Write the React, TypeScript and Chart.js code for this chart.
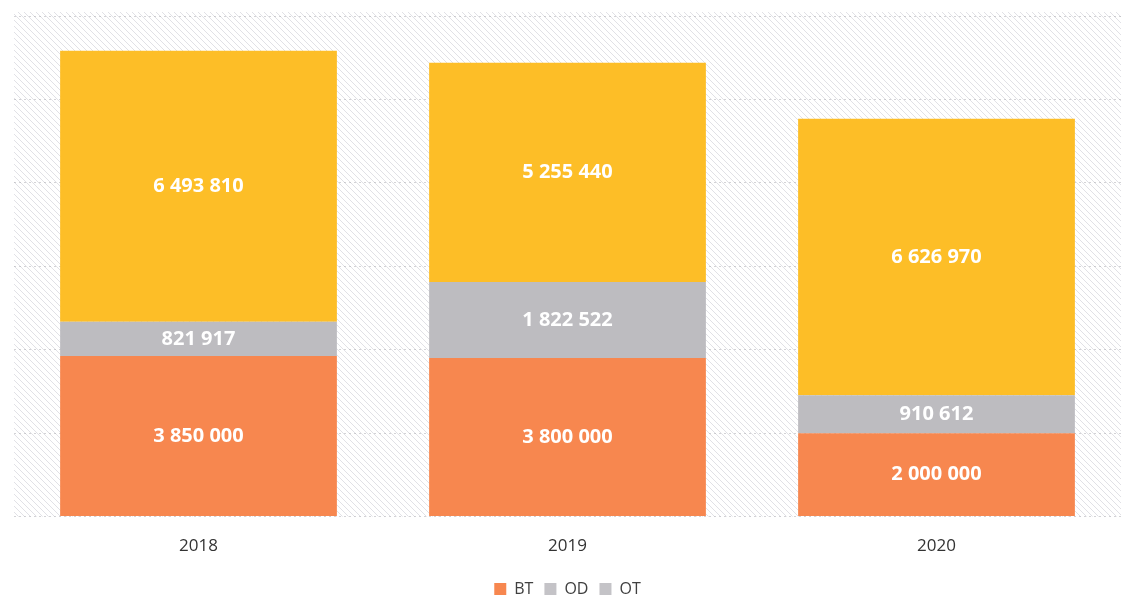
import React, { useEffect, useRef } from "react";
import { Chart, registerables } from "chart.js";

Chart.register(...registerables);

const categories = ["2018", "2019", "2020"];
const btValues = [3850000, 3800000, 2000000];
const odValues = [821917, 1822522, 910612];
const otValues = [6493810, 5255440, 6626970];
const seriesNames = ["BT", "OD", "OT"];
const yTicks = [0, 2000000, 4000000, 6000000, 8000000, 10000000, 12000000];

const fmt = (v: number) => String(Math.round(v)).replace(/\B(?=(\d{3})+(?!\d))/g, " ");

const hatchPlugin = {
  id: "hatch",
  beforeDraw(chart: any) {
    const { ctx, chartArea } = chart;
    const pc = document.createElement("canvas");
    pc.width = 6;
    pc.height = 6;
    const p = pc.getContext("2d")!;
    p.strokeStyle = "rgba(195,195,205,0.5)";
    p.lineWidth = 1;
    p.beginPath();
    p.moveTo(0, 0);
    p.lineTo(6, 6);
    p.moveTo(-3, 3);
    p.lineTo(3, 9);
    p.moveTo(3, -3);
    p.lineTo(9, 3);
    p.stroke();
    const pat = ctx.createPattern(pc, "repeat");
    ctx.save();
    ctx.fillStyle = pat;
    ctx.fillRect(chartArea.left, chartArea.top - 4, chartArea.right - chartArea.left, chartArea.bottom - chartArea.top + 4);
    ctx.restore();
  },
};

const labelPlugin = {
  id: "barLabels",
  afterDatasetsDraw(chart: any) {
    const { ctx } = chart;
    ctx.save();
    ctx.fillStyle = "#ffffff";
    ctx.font = "bold 20px 'Open Sans', sans-serif";
    ctx.textAlign = "center";
    ctx.textBaseline = "middle";
    chart.data.datasets.forEach((ds: any, di: number) => {
      const meta = chart.getDatasetMeta(di);
      meta.data.forEach((bar: any, i: number) => {
        const y = (bar.y + bar.base) / 2;
        ctx.fillText(fmt(ds.data[i]), bar.x, y);
      });
    });
    ctx.restore();
  },
};

export default function App() {
  const ref = useRef<HTMLCanvasElement>(null);
  useEffect(() => {
    document.body.style.margin = "0";
    const legendColors = ["#F7874F", "#C4C3C7", "#C4C3C7"];
    const chart = new Chart(ref.current!, {
      type: "bar",
      data: {
        labels: categories,
        datasets: [
          { label: seriesNames[0], data: btValues, backgroundColor: "#F7874F" },
          { label: seriesNames[1], data: odValues, backgroundColor: "#BDBCC0" },
          { label: seriesNames[2], data: otValues, backgroundColor: "#FDBE27" },
        ],
      },
      options: {
        animation: false,
        responsive: false,
        layout: { padding: { left: 14, right: 0, top: 16, bottom: -11 } },
        datasets: { bar: { barPercentage: 0.75, categoryPercentage: 1 } },
        plugins: {
          legend: {
            position: "bottom",
            labels: {
              boxWidth: 12,
              boxHeight: 12,
              padding: 11,
              color: "#404040",
              font: { size: 16, family: "'Open Sans', sans-serif" },
              generateLabels: (c: any) =>
                c.data.datasets.map((ds: any, i: number) => ({
                  text: ds.label,
                  fillStyle: legendColors[i],
                  strokeStyle: legendColors[i],
                  lineWidth: 0,
                  datasetIndex: i,
                  hidden: false,
                  fontColor: "#404040",
                })),
            },
          },
          tooltip: { enabled: false },
        },
        scales: {
          x: {
            stacked: true,
            grid: { display: false },
            border: { display: false },
            ticks: { color: "#333", padding: 11, font: { size: 17, family: "'Open Sans', sans-serif" } },
            afterFit: (axis: any) => {
              axis.height += 3;
            },
          },
          y: {
            stacked: true,
            min: 0,
            max: 12000000,
            afterBuildTicks: (axis: any) => {
              axis.ticks = yTicks.map((v) => ({ value: v }));
            },
            ticks: { display: false },
            border: { display: false, dash: [2, 3] },
            grid: {
              drawTicks: false,
              color: "rgba(175,175,180,0.55)",
              lineWidth: 1,
            },
          },
        },
      },
      plugins: [hatchPlugin, labelPlugin],
    });
    return () => chart.destroy();
  }, []);
  return <canvas ref={ref} width={1121} height={596} style={{ display: "block" }} />;
}
